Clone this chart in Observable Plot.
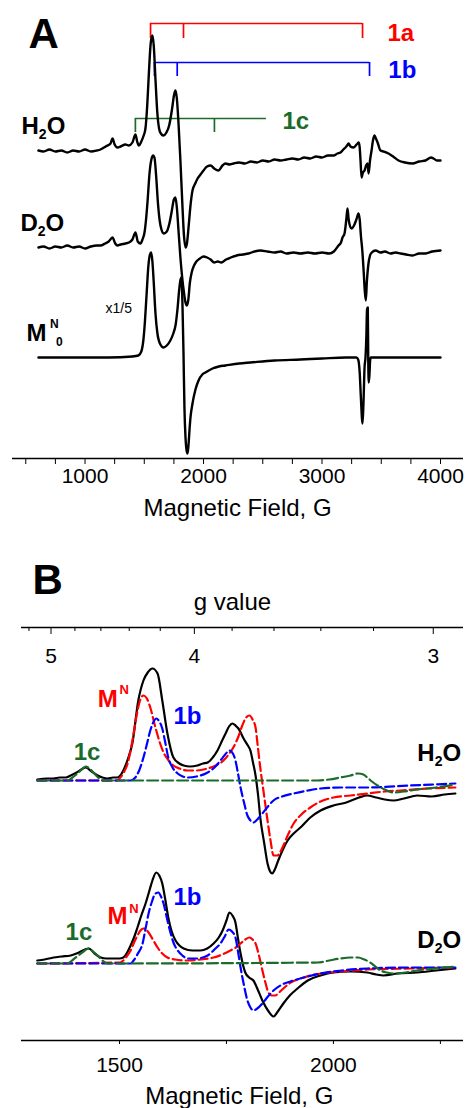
<!DOCTYPE html>
<html><head><meta charset="utf-8">
<script src="https://cdn.jsdelivr.net/npm/d3@7"></script>
<script src="https://cdn.jsdelivr.net/npm/@observablehq/plot@0.6"></script>
<style>
body{margin:0;background:#fff;}
#chart{width:467px;height:1108px;overflow:hidden;background:#fff;}
#chart svg{display:block;}
</style></head><body><div id="chart"></div>
<script>
const FONT = "Arial, 'Liberation Sans', Helvetica, sans-serif";
const RED = "#ff0000", BLUE = "#0000ff", GREEN = "#1b6b2a";

// ---------- Panel A data (field G, intensity a.u.) ----------
const fieldTicksA = d3.range(500, 4001, 250);
const fieldLabelsA = [1000, 2000, 3000, 4000];
const h2oA = [[607,0],[650,-1],[700,1],[750,-1],[800,0],[850,-2],[900,0],[950,-1],[1000,1],[1050,-1],[1100,0],[1130,1],[1160,3],[1190,5],[1215,7],[1232,12],[1250,6],[1274,3],[1300,4],[1341,6],[1370,5],[1400,8],[1426,16],[1440,9],[1455,5],[1475,9],[1492,14],[1510,22],[1525,45],[1540,80],[1555,108],[1569,115],[1580,105],[1595,70],[1610,38],[1625,22],[1640,17],[1662,15],[1687,18],[1710,25],[1735,42],[1752,56],[1763,60],[1775,52],[1790,25],[1805,-10],[1820,-50],[1835,-85],[1848,-97],[1860,-93],[1875,-75],[1890,-55],[1907,-40],[1930,-33],[1950,-28],[1975,-24],[2000,-20],[2030,-16],[2060,-15],[2090,-18],[2126,-20],[2160,-15],[2185,-13],[2220,-14],[2253,-13],[2300,-12],[2350,-13],[2400,-11],[2450,-12],[2500,-10],[2550,-11],[2600,-9],[2650,-10],[2700,-9],[2750,-8],[2800,-9],[2850,-7],[2900,-8],[2950,-6],[3000,-7],[3050,-5],[3097,-5],[3130,-3],[3156,-2],[3180,1],[3198,3],[3212,5],[3224,7],[3240,4],[3266,3],[3285,5],[3300,7],[3310,8],[3318,3],[3325,-10],[3334,-27],[3345,-22],[3359,-20],[3372,-15],[3384,-13],[3393,-23],[3405,-10],[3418,0],[3430,10],[3443,15],[3455,12],[3469,8],[3494,0],[3520,-1],[3561,-3],[3600,-6],[3646,-10],[3700,-12],[3764,-13],[3820,-11],[3874,-10],[3920,-7],[3941,-8],[3970,-10],[4000,-10]];
const d2oA = [[607,0],[650,1],[700,-1],[750,1],[800,0],[850,2],[900,0],[950,1],[1000,-1],[1050,1],[1100,2],[1130,2],[1170,4],[1200,6],[1232,10],[1255,4],[1274,2],[1300,3],[1341,4],[1370,5],[1400,8],[1426,15],[1445,6],[1468,4],[1485,8],[1502,15],[1515,28],[1527,45],[1545,75],[1560,88],[1575,92],[1586,90],[1600,72],[1615,45],[1630,27],[1645,18],[1665,14],[1690,16],[1710,23],[1730,35],[1750,48],[1763,50],[1775,40],[1790,15],[1805,-10],[1820,-30],[1835,-45],[1848,-55],[1860,-58],[1872,-52],[1885,-35],[1900,-25],[1920,-18],[1940,-14],[1970,-11],[2000,-9],[2030,-10],[2060,-12],[2090,-15],[2120,-14],[2150,-15],[2190,-12],[2230,-10],[2280,-8],[2330,-7],[2380,-6],[2430,-4],[2480,-3],[2540,-4],[2600,-5],[2650,-4],[2700,-6],[2760,-5],[2818,-6],[2880,-5],[2940,-6],[3000,-5],[3060,-6],[3100,-4],[3139,2],[3160,5],[3173,10],[3190,14],[3205,28],[3215,39],[3225,28],[3235,22],[3250,19],[3270,22],[3290,28],[3308,34],[3318,28],[3328,12],[3340,-3],[3352,-25],[3362,-45],[3370,-53],[3378,-35],[3390,-18],[3405,-8],[3420,-5],[3452,-3],[3494,-5],[3530,-4],[3578,-6],[3620,-5],[3663,-6],[3710,-7],[3764,-8],[3820,-6],[3874,-6],[3930,-4],[4000,-3]];
const mnA = [[607,0],[800,0],[1000,0],[1200,0],[1400,1],[1450,2],[1475,6],[1493,18],[1505,35],[1519,62],[1535,92],[1548,103],[1558,105],[1568,97],[1580,75],[1594,45],[1611,24],[1636,13],[1662,10],[1690,12],[1720,17],[1745,24],[1765,33],[1780,48],[1795,68],[1806,78],[1814,80],[1822,55],[1831,5],[1839,-50],[1848,-80],[1856,-92],[1865,-96],[1873,-88],[1882,-72],[1890,-60],[1907,-46],[1932,-32],[1958,-23],[1990,-17],[2016,-15],[2076,-11],[2130,-9],[2185,-8],[2300,-6],[2396,-5],[2600,-3],[2818,-2],[3000,-1],[3200,0],[3290,0],[3305,-2],[3318,-15],[3328,-40],[3342,-66],[3350,-45],[3359,-10],[3367,0],[3374,20],[3380,48],[3386,50],[3390,0],[3394,-25],[3400,-18],[3406,-3],[3412,0],[3500,0],[3700,0],[4000,0]];
const offsetsA = {h2o: 308, d2o: 211, mn: 101};
const bracket1a = [1553, 1831, 3342];
const bracket1b = [1586, 1778, 3401];
const bracket1c = [1425, 2092];
const bracket1cEnd = 2531;

// ---------- Panel B data ----------
const fieldTicksB = [1500, 1750, 2000, 2250];
const fieldLabelsB = [1500, 2000];
const gMajor = [5, 4, 3];
const gMinor = [5.2, 4.8, 4.6, 4.4, 4.2, 3.8, 3.6, 3.4, 3.2];
const gConst = 6700; // field (G) = gConst / g
const expH2O = [[1308,1],[1330,2],[1346,2],[1360,3],[1375,3],[1386,5],[1400,8],[1421,13],[1435,9],[1449,5],[1460,3],[1472,2],[1485,3],[1495,3],[1502,5],[1509,10],[1520,22],[1530,37],[1544,80],[1556,100],[1566,108],[1577,112],[1589,107],[1600,80],[1612,47],[1626,23],[1640,17],[1650,15],[1665,14],[1682,15],[1695,17],[1706,18],[1718,23],[1729,30],[1740,40],[1748,47],[1756,54],[1764,57],[1771,55],[1778,52],[1790,42],[1800,35],[1806,30],[1812,18],[1818,5],[1824,-15],[1829,-37],[1838,-62],[1846,-83],[1852,-91],[1857,-93],[1863,-89],[1871,-80],[1882,-69],[1893,-60],[1907,-53],[1923,-47],[1946,-37],[1970,-30],[2000,-25],[2030,-22],[2060,-17],[2079,-15],[2100,-17],[2120,-19],[2140,-20],[2165,-18],[2196,-15],[2230,-16],[2260,-14],[2285,-13]];
const mnH2O = [[1308,0],[1495,0],[1502,3],[1510,8],[1519,17],[1526,30],[1533,47],[1540,65],[1548,80],[1556,85],[1564,82],[1572,73],[1584,53],[1595,37],[1603,28],[1615,20],[1626,15],[1640,12],[1659,10],[1680,10],[1706,12],[1725,15],[1743,20],[1755,26],[1766,33],[1778,44],[1787,55],[1796,63],[1804,65],[1811,61],[1818,53],[1823,35],[1829,13],[1837,-12],[1846,-40],[1853,-60],[1860,-75],[1868,-75],[1881,-67],[1893,-55],[1907,-43],[1925,-34],[1946,-27],[1970,-21],[2000,-17],[2040,-15],[2079,-13],[2120,-11],[2157,-10],[2220,-8],[2285,-7]];
const s1bH2O = [[1308,0],[1526,0],[1537,3],[1546,10],[1556,23],[1565,38],[1572,50],[1580,59],[1586,62],[1593,59],[1600,52],[1607,38],[1614,23],[1624,13],[1636,7],[1648,4],[1659,3],[1680,4],[1706,8],[1722,13],[1736,20],[1747,26],[1757,30],[1765,27],[1771,20],[1777,7],[1783,-7],[1791,-22],[1799,-35],[1806,-40],[1813,-42],[1822,-39],[1834,-33],[1847,-26],[1860,-20],[1880,-16],[1907,-13],[1940,-10],[1970,-8],[2020,-7],[2079,-7],[2180,-5],[2285,-3]];
const s1cH2O = [[1308,0],[1379,0],[1390,3],[1402,7],[1412,11],[1421,14],[1430,12],[1439,8],[1450,3],[1463,0],[1963,0],[1990,1],[2016,3],[2040,5],[2058,7],[2070,6],[2079,3],[2090,-1],[2103,-5],[2120,-9],[2140,-12],[2165,-11],[2196,-9],[2240,-7],[2285,-4]];
const expD2O = [[1308,3],[1325,4],[1346,6],[1365,7],[1386,8],[1405,11],[1428,15],[1442,10],[1456,6],[1470,5],[1486,5],[1500,5],[1509,6],[1518,11],[1526,18],[1534,26],[1542,36],[1551,48],[1561,60],[1570,73],[1577,83],[1586,91],[1593,88],[1600,80],[1607,64],[1614,46],[1622,32],[1631,23],[1640,18],[1650,15],[1670,13],[1689,13],[1705,15],[1720,20],[1732,26],[1741,33],[1750,43],[1757,51],[1764,48],[1771,41],[1777,25],[1783,10],[1789,-2],[1794,-9],[1803,-14],[1813,-17],[1824,-27],[1834,-37],[1847,-47],[1860,-53],[1870,-48],[1883,-40],[1898,-32],[1916,-25],[1940,-17],[1970,-12],[2000,-9],[2040,-8],[2079,-9],[2100,-11],[2117,-12],[2150,-10],[2196,-9],[2240,-7],[2285,-5]];
const mnD2O = [[1308,0],[1502,1],[1515,6],[1526,13],[1534,21],[1542,28],[1549,33],[1556,35],[1562,34],[1568,31],[1578,24],[1589,16],[1600,10],[1612,6],[1630,4],[1659,3],[1690,4],[1720,6],[1740,9],[1759,13],[1772,16],[1783,20],[1794,24],[1804,26],[1811,24],[1818,20],[1826,8],[1834,-7],[1841,-19],[1848,-29],[1856,-32],[1864,-32],[1873,-29],[1883,-25],[1900,-19],[1923,-15],[1946,-12],[1970,-10],[2020,-8],[2079,-6],[2180,-5],[2285,-4]];
const s1bD2O = [[1308,0],[1526,0],[1533,3],[1543,10],[1554,20],[1561,35],[1568,50],[1576,62],[1584,70],[1591,71],[1597,67],[1603,60],[1611,45],[1619,31],[1627,20],[1636,13],[1647,8],[1659,5],[1680,5],[1706,8],[1722,14],[1736,20],[1746,27],[1755,34],[1763,32],[1771,26],[1777,12],[1783,-4],[1791,-22],[1799,-37],[1806,-44],[1813,-47],[1822,-45],[1834,-40],[1847,-33],[1860,-27],[1880,-21],[1907,-17],[1940,-13],[1970,-10],[2020,-7],[2079,-5],[2180,-4],[2285,-4]];
const s1cD2O = [[1308,0],[1379,0],[1392,4],[1404,8],[1416,12],[1428,15],[1438,12],[1449,8],[1460,3],[1472,0],[1963,1],[1990,3],[2016,5],[2040,6],[2058,6],[2072,4],[2086,1],[2098,-3],[2110,-7],[2125,-9],[2140,-10],[2170,-9],[2196,-7],[2240,-5],[2285,-3]];
const offsetsB = {h2o: 260, d2o: 77};

// ---------- helpers ----------
const W = 467;
function trace(data, off, opts) {
  return Plot.line(data, {x: d => d[0], y: d => d[1] + off, curve: "monotone-x", strokeLinejoin: "round", ...opts});
}
function label(x, y, text, opts) {
  return Plot.text([0], {x: () => x, y: () => y, text: () => text, textAnchor: "start", lineAnchor: "bottom", fontWeight: "bold", fontSize: 24, ...opts});
}
function subscriptify(svg) {
  d3.select(svg).selectAll("text").filter(function() {
    return this.textContent === "H2O" || this.textContent === "D2O";
  }).each(function() {
    const t = this.textContent, s = d3.select(this);
    s.text(null);
    s.append("tspan").text(t[0]);
    s.append("tspan").attr("font-size", 14).attr("dy", 5).text("2");
    s.append("tspan").attr("dy", -5).text("O");
  });
}

// ---------- Panel A ----------
const plotA = Plot.plot({
  width: W, height: 540,
  marginLeft: 12, marginRight: 4, marginTop: 0, marginBottom: 82,
  x: {domain: [388, 4194]},
  y: {domain: [0, 458], axis: null},
  style: {fontFamily: FONT, background: "white", color: "black"},
  marks: [
    Plot.ruleY([0], {strokeWidth: 1.4}),
    Plot.axisX({ticks: fieldTicksA, tickFormat: d => fieldLabelsA.includes(d) ? String(d) : "", tickSize: 6, tickPadding: 4, fontSize: 21, label: null}),
    Plot.text(["Magnetic Field, G"], {x: () => 2287, y: () => -57, text: d => d, lineAnchor: "bottom", fontSize: 24}),
    // brackets
    Plot.ruleY([435], {x1: bracket1a[0], x2: bracket1a[2], stroke: RED, strokeWidth: 1.7}),
    Plot.ruleX(bracket1a, {y1: 435, y2: 420, stroke: RED, strokeWidth: 1.7}),
    Plot.ruleY([396], {x1: bracket1b[0], x2: bracket1b[2], stroke: BLUE, strokeWidth: 1.7}),
    Plot.ruleX(bracket1b, {y1: 396, y2: 382, stroke: BLUE, strokeWidth: 1.7}),
    Plot.ruleY([340], {x1: bracket1c[0], x2: bracket1cEnd, stroke: GREEN, strokeWidth: 1.7}),
    Plot.ruleX(bracket1c, {y1: 340, y2: 326, stroke: GREEN, strokeWidth: 1.7}),
    // traces
    trace(h2oA, offsetsA.h2o, {stroke: "black", strokeWidth: 2.4}),
    trace(d2oA, offsetsA.d2o, {stroke: "black", strokeWidth: 2.4}),
    trace(mnA, offsetsA.mn, {stroke: "black", strokeWidth: 2.4}),
    // labels
    label(523, 411, "A", {fontSize: 42}),
    label(3552, 418, "1a", {fill: RED}),
    label(3560, 381, "1b", {fill: BLUE}),
    label(2666, 330, "1c", {fill: GREEN}),
    label(464, 325, "H2O"),
    label(455, 228, "D2O"),
    label(506, 118, "M"),
    label(705, 131, "N", {fontSize: 12}),
    label(755, 113, "0", {fontSize: 12}),
    label(1173, 146, "x1/5", {fontWeight: "normal", fontSize: 14})
  ]
});

// ---------- Panel B ----------
const plotB = Plot.plot({
  width: W, height: 568,
  marginLeft: 21, marginRight: 4, marginTop: 87, marginBottom: 68,
  x: {domain: [1271, 2304]},
  y: {domain: [0, 413], axis: null},
  style: {fontFamily: FONT, background: "white", color: "black"},
  marks: [
    Plot.ruleY([0, 413], {strokeWidth: 1.4}),
    Plot.axisX({ticks: fieldTicksB, tickFormat: d => fieldLabelsB.includes(d) ? String(d) : "", tickSize: 4, tickPadding: 13, fontSize: 21, label: null}),
    Plot.text(["Magnetic Field, G"], {x: () => 1780, y: () => -63, text: d => d, lineAnchor: "bottom", fontSize: 24}),
    // top g-value axis
    Plot.ruleX(gMajor, {x: g => gConst / g, y1: 413, y2: 406}),
    Plot.ruleX(gMinor, {x: g => gConst / g, y1: 413, y2: 409}),
    Plot.text(gMajor, {x: g => gConst / g, y: () => 378, text: g => String(g), lineAnchor: "bottom", fontSize: 21}),
    Plot.text(["g value"], {x: () => 1764, y: () => 431, text: d => d, lineAnchor: "bottom", fontSize: 24}),
    // H2O
    trace(expH2O, offsetsB.h2o, {stroke: "black", strokeWidth: 2.2}),
    trace(mnH2O, offsetsB.h2o, {stroke: RED, strokeWidth: 2.2, strokeDasharray: "9,4"}),
    trace(s1bH2O, offsetsB.h2o, {stroke: BLUE, strokeWidth: 2.2, strokeDasharray: "9,4"}),
    trace(s1cH2O, offsetsB.h2o, {stroke: GREEN, strokeWidth: 2.2, strokeDasharray: "11,4"}),
    // D2O
    trace(expD2O, offsetsB.d2o, {stroke: "black", strokeWidth: 2.2}),
    trace(mnD2O, offsetsB.d2o, {stroke: RED, strokeWidth: 2.2, strokeDasharray: "9,4"}),
    trace(s1bD2O, offsetsB.d2o, {stroke: BLUE, strokeWidth: 2.2, strokeDasharray: "9,4"}),
    trace(s1cD2O, offsetsB.d2o, {stroke: GREEN, strokeWidth: 2.2, strokeDasharray: "11,4"}),
    // labels
    label(1297, 447, "B", {fontSize: 42}),
    label(2196, 280, "H2O"),
    label(2196, 93, "D2O"),
    label(1449, 334, "M", {fill: RED}),
    label(1500, 347, "N", {fill: RED, fontSize: 13}),
    label(1626, 317, "1b", {fill: BLUE}),
    label(1393, 281, "1c", {fill: GREEN}),
    label(1374, 101, "1c", {fill: GREEN}),
    label(1472, 117, "M", {fill: RED}),
    label(1523, 128, "N", {fill: RED, fontSize: 13}),
    label(1626, 136, "1b", {fill: BLUE})
  ]
});

subscriptify(plotA);
subscriptify(plotB);
const chart = document.getElementById("chart");
chart.appendChild(plotA);
chart.appendChild(plotB);
</script>
</body></html>
